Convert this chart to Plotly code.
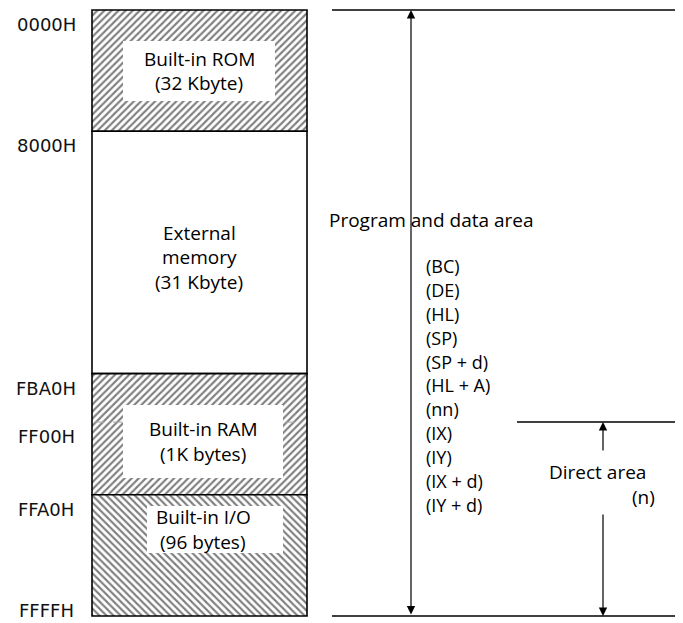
import plotly.graph_objects as go

# ---------------- data ----------------
region_names = ["Built-in ROM", "External memory", "Built-in RAM", "Built-in I/O"]
region_lines = [["Built-in ROM", "(32 Kbyte)"],
                ["External", "memory", "(31 Kbyte)"],
                ["Built-in RAM", "(1K bytes)"],
                ["Built-in I/O", "(96 bytes)"]]
region_start = [0, 1, 3, 4]          # diagram rows (not to scale)
region_end = [1, 3, 4, 5]
region_hatch = ["/", "", "/", "\\"]

addresses = ["0000H", "8000H", "FBA0H", "FF00H", "FFA0H", "FFFFH"]
address_at = [0, 1, 3, 3.40, 4, 5]

registers = ["(BC)", "(DE)", "(HL)", "(SP)", "(SP + d)", "(HL + A)",
             "(nn)", "(IX)", "(IY)", "(IX + d)", "(IY + d)"]
program_area = ("Program and data area", 0, 5)
direct_area = ("Direct area", "(n)", 3.40, 5)

# ---------------- layout helpers ----------------
W, H = 683, 623
OFF = 8                          # page body margin
PX0, PXU = 10.0, 121.2           # pixel of row 0, pixels per row
def u(px):
    return (px - PX0) / PXU

BOX_X0, BOX_X1 = 92, 307
inner_boxes = [(123, 275, u(41), u(101)),
               None,
               (123, 283, u(405), u(478)),
               (147, 283, u(506), u(553))]
text_cx = [199, 199, 203, 203]
line_gap = [0.19, 0.202, 0.206, 0.204]

FONT = "Open Sans"
TXT = dict(family=FONT, size=19, color="#000")
REG = dict(family=FONT, size=18, color="#000")
ADDR = dict(family="DejaVu Sans", size=18, color="#111")

fig = go.Figure()

for i, name in enumerate(region_names):
    pat = dict(shape=region_hatch[i], fgcolor="#000", bgcolor="white",
               size=5, solidity=0.42) if region_hatch[i] else dict(shape="")
    fig.add_trace(go.Bar(
        x=[(BOX_X0 + BOX_X1) / 2], y=[region_end[i] - region_start[i]],
        base=[region_start[i]], width=[BOX_X1 - BOX_X0],
        marker=dict(color="white", line=dict(color="#000", width=1.6), pattern=pat),
        name=name, hoverinfo="skip", showlegend=False))

shapes = []
annotations = []

# inner white label boxes and region texts
for i, lines in enumerate(region_lines):
    ib = inner_boxes[i]
    if ib:
        shapes.append(dict(type="rect", xref="x", yref="y", x0=ib[0], x1=ib[1],
                           y0=ib[2], y1=ib[3], fillcolor="white",
                           line=dict(width=0), layer="above"))
        cy = (ib[2] + ib[3]) / 2
    else:
        cy = (region_start[i] + region_end[i]) / 2 + 0.04
    n = len(lines)
    for k, t in enumerate(lines):
        annotations.append(dict(x=text_cx[i], y=cy + (k - (n - 1) / 2) * line_gap[i],
                                xref="x", yref="y", text=t, showarrow=False,
                                xanchor="center", yanchor="middle", font=TXT))

# faint dashed marks at FF00H inside RAM
ff00 = address_at[3]
for xa, xb in [(BOX_X0 + 3, 123), (286, BOX_X1 - 3)]:
    shapes.append(dict(type="line", xref="x", yref="y", x0=xa, x1=xb, y0=ff00, y1=ff00,
                       line=dict(color="#aaa", width=1, dash="dash"), layer="above"))

# address labels
for a, pos in zip(addresses, address_at):
    y = pos + 0.12 if pos < region_end[-1] else pos - 0.045
    annotations.append(dict(x=46, y=y, xref="x", yref="y", text=a, showarrow=False,
                            xanchor="center", yanchor="middle", font=ADDR))

# right-hand horizontal lines
_, p0, p1 = program_area
for yy in (p0, p1):
    shapes.append(dict(type="line", xref="x", yref="y", x0=332, x1=W, y0=yy, y1=yy,
                       line=dict(color="#000", width=1.5)))
_, _, d0, d1 = direct_area
shapes.append(dict(type="line", xref="x", yref="y", x0=517, x1=W, y0=d0, y1=d0,
                   line=dict(color="#000", width=1.5)))

ARW = dict(showarrow=True, arrowhead=2, arrowsize=1.4, arrowwidth=1.2,
           arrowcolor="#000", axref="x", ayref="y", xref="x", yref="y", text="")

# program area double arrow
annotations.append(dict(ARW, x=411, y=p0, ax=411, ay=p1, arrowside="end+start"))
annotations.append(dict(x=327, y=u(220), xref="x", yref="y", text=program_area[0],
                        showarrow=False, xanchor="left", yanchor="middle", font=TXT))
for k, r in enumerate(registers):
    annotations.append(dict(x=424, y=u(266) + k * 0.197, xref="x", yref="y", text=r,
                            showarrow=False, xanchor="left", yanchor="middle", font=REG))

# direct area arrows and text
annotations.append(dict(ARW, x=603, y=d0, ax=603, ay=u(452)))
annotations.append(dict(ARW, x=603, y=d1, ax=603, ay=u(513)))
annotations.append(dict(x=547, y=u(472), xref="x", yref="y", text=direct_area[0],
                        showarrow=False, xanchor="left", yanchor="middle", font=TXT))
annotations.append(dict(x=630, y=u(497), xref="x", yref="y", text=direct_area[1],
                        showarrow=False, xanchor="left", yanchor="middle", font=TXT))

fig.update_layout(
    width=W - OFF, height=H - OFF, margin=dict(l=0, r=0, t=0, b=0),
    paper_bgcolor="white", plot_bgcolor="white", barmode="overlay",
    xaxis=dict(range=[OFF, W], visible=False, fixedrange=True),
    yaxis=dict(range=[u(H), u(OFF)], visible=False, fixedrange=True),
    shapes=shapes, annotations=annotations, showlegend=False)

fig.write_html("out.html", config=dict(displayModeBar=False))
